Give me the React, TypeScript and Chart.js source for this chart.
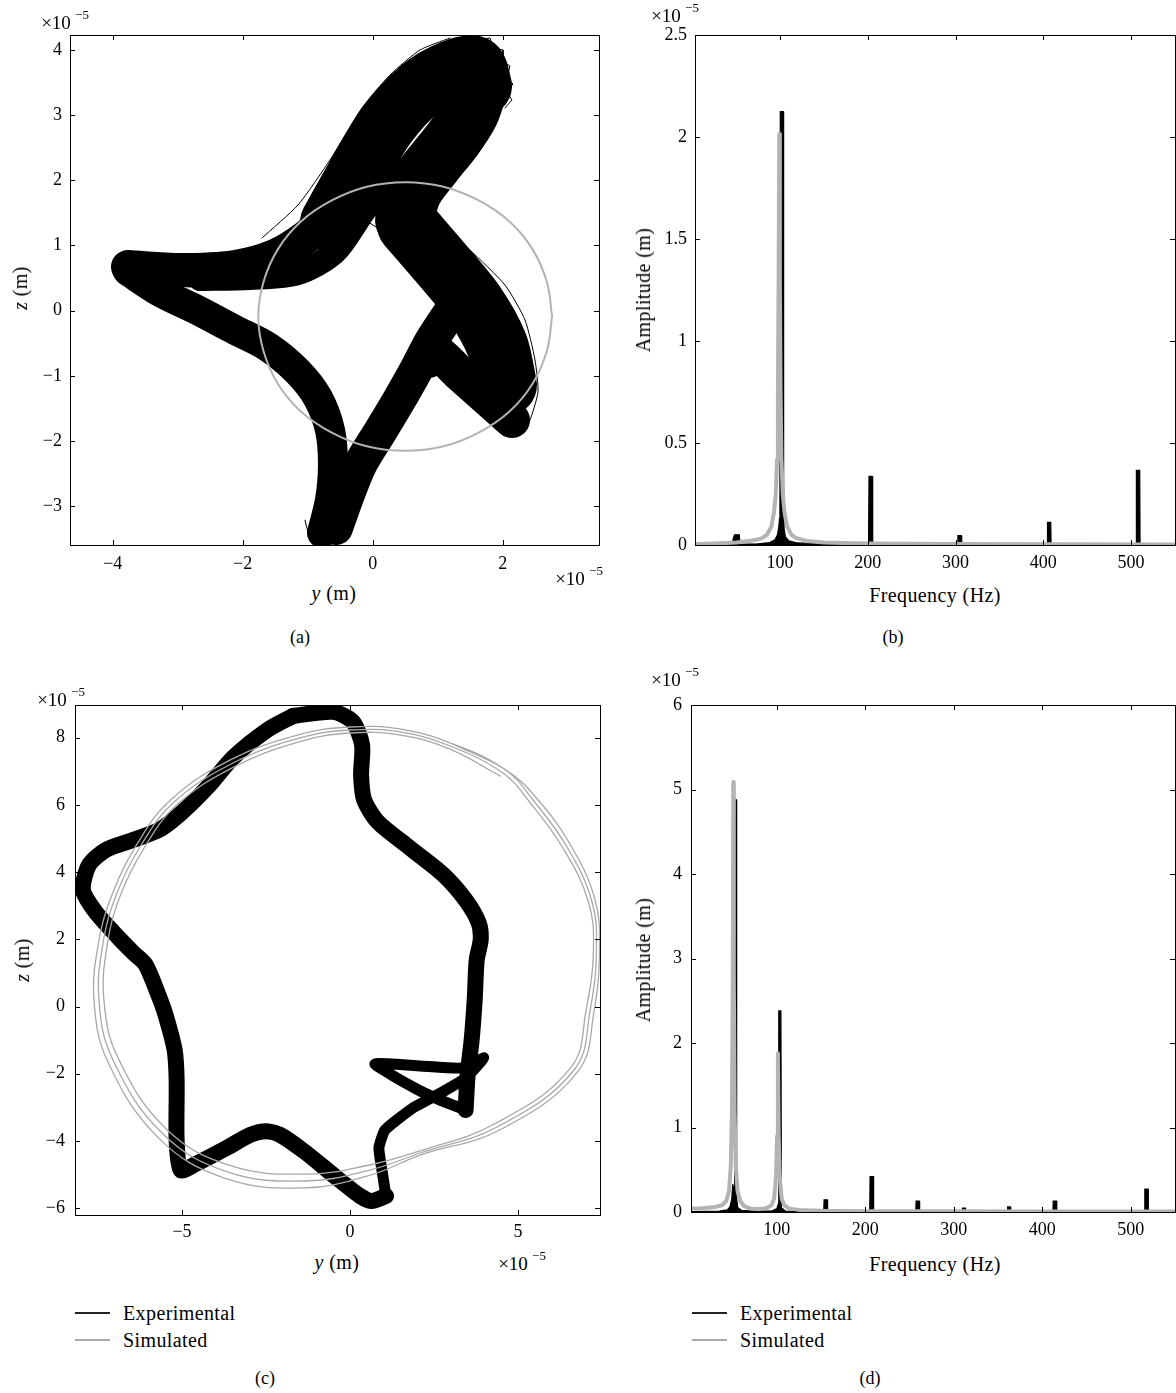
import React, { useEffect, useRef } from 'react';
import { Chart, registerables } from 'chart.js';

Chart.register(...registerables);

type Pt = [number, number];

const SERIF = '"Liberation Serif", "DejaVu Serif", "Times New Roman", serif';
const INK = '#000000';
const GREY = '#b3b3b3';

// ---------- (a) orbit, y/z in units of 1e-5 m ----------
const ORBIT_A_LEFT_TIP: Pt[] = [
  [-3.765, 0.67], [-2.965, 0.624], [-2.118, 0.67], [-1.503, 0.839], [-1.042, 1.115], [-0.657, 1.468],
];
const ORBIT_A_ELBOW: Pt[] = [
  [-2.655, 0.486], [-1.888, 0.501], [-1.149, 0.578], [-0.58, 0.9], [-0.195, 1.437], [0.005, 1.729], [0.235, 2.127],
];
const ORBIT_A_RISE: Pt[] = [
  [-0.657, 1.357], [-0.318, 1.959], [0.205, 2.833], [0.743, 3.416],
  [1.22, 3.692], [1.574, 3.753], [1.682, 3.446],
];
const ORBIT_A_DESCENT: Pt[] = [
  [1.62, 3.385], [1.497, 3.031], [1.251, 2.649], [0.943, 2.265], [0.635, 1.851], [0.482, 1.391],
];
const ORBIT_A_RIGHT_OUT: Pt[] = [
  [0.543, 1.314], [1.112, 0.655], [1.574, 0.087], [1.912, -0.525], [2.051, -1.139],
];
const ORBIT_A_RIGHT_BACK: Pt[] = [
  [2.143, -1.677], [1.728, -1.308], [1.312, -0.94], [0.974, -0.633], [0.851, -0.758],
];
const ORBIT_A_MIDDLE: Pt[] = [
  [1.266, 0.087], [0.912, -0.449], [0.651, -0.94], [0.389, -1.4], [0.112, -1.86],
  [-0.195, -2.366], [-0.411, -2.903], [-0.565, -3.333],
];
const ORBIT_A_LOWER: Pt[] = [
  [-0.78, -3.41], [-0.657, -2.903], [-0.611, -2.366], [-0.657, -1.83], [-0.842, -1.339],
  [-1.149, -0.94], [-1.611, -0.557], [-2.118, -0.296], [-2.734, 0.026], [-3.272, 0.287], [-3.765, 0.608],
];
// single stray passes around the bundle
const STRAY_A_NOTCH: Pt[] = [[0.051, 1.621], [-0.072, 1.36], [0.174, 1.207], [0.343, 0.931], [0.605, 0.747]];
const STRAY_A_LEFT: Pt[] = [[-3.918, 0.808], [-3.811, 0.593], [-3.426, 0.409], [-2.811, 0.363], [-2.042, 0.409], [-1.58, 0.532]];
const STRAY_A_TOP: Pt[] = [
  [1.266, 4.121], [1.497, 4.244], [1.651, 4.152], [1.805, 4.183], [1.866, 4.029], [2.005, 3.998],
  [2.005, 3.814], [2.112, 3.753], [2.066, 3.569], [2.158, 3.477], [2.066, 3.354], [2.143, 3.232], [2.035, 3.109],
];
const STRAY_A_BOTTOM: Pt[] = [[-1.042, -3.21], [-0.965, -3.517], [-0.842, -3.333], [-0.78, -3.594], [-0.657, -3.364], [-0.566, -3.548], [-0.457, -3.287]];
const STRAY_A_RISE: Pt[] = [[-1.703, 1.115], [-1.149, 1.621], [-0.657, 2.311], [-0.165, 3.109], [0.266, 3.615], [0.728, 3.998], [1.189, 4.182]];
const STRAY_A_RIGHT: Pt[] = [[1.035, 1.36], [1.497, 0.931], [2.035, 0.394], [2.343, -0.141], [2.497, -0.754], [2.543, -1.245], [2.42, -1.676], [2.266, -1.907]];
const SIM_A: Pt[] = [
  [2.76, -0.09], [2.68, 0.44], [2.46, 0.94], [2.1, 1.37], [1.63, 1.69], [1.09, 1.9], [0.5, 1.97],
  [-0.09, 1.9], [-0.63, 1.69], [-1.1, 1.37], [-1.46, 0.94], [-1.68, 0.44], [-1.76, -0.09],
  [-1.68, -0.62], [-1.46, -1.12], [-1.1, -1.55], [-0.63, -1.87], [-0.09, -2.08], [0.5, -2.15],
  [1.09, -2.08], [1.63, -1.87], [2.1, -1.55], [2.46, -1.12], [2.68, -0.62], [2.76, -0.09],
];

// ---------- (b) spectrum: frequency (Hz), amplitude (1e-5 m) ----------
const SPEC_B_EXP: Pt[] = [
  [3, 0.003], [25, 0.004], [45.5, 0.005], [46.5, 0.03], [48, 0.05], [53.5, 0.05], [54.3, 0.005],
  [75, 0.006], [88, 0.012], [94, 0.025], [97, 0.05], [98.5, 0.09], [99.3, 0.13], [99.8, 0.5],
  [100.2, 2.124], [103.6, 2.124], [104, 0.3], [104.5, 0.08], [106, 0.04], [110, 0.02], [120, 0.01],
  [150, 0.005], [199.5, 0.004], [200.8, 0.02], [201.3, 0.336], [205, 0.336], [205.5, 0.02], [207, 0.004],
  [300, 0.004], [302.2, 0.005], [302.6, 0.046], [306.5, 0.046], [306.9, 0.005],
  [404.3, 0.005], [404.7, 0.111], [408.4, 0.111], [408.8, 0.005],
  [505.6, 0.004], [506, 0.366], [509.8, 0.366], [510.2, 0.004], [550, 0.004],
];
const SPEC_B_SIM: Pt[] = [
  [3, 0.004], [30, 0.008], [50, 0.012], [65, 0.02], [75, 0.028], [80, 0.035], [85, 0.05], [90, 0.09],
  [93, 0.16], [95, 0.25], [96.5, 0.42], [97.5, 0.75], [98.3, 1.3], [99, 2.015], [99.7, 1.3],
  [100.5, 0.75], [101.5, 0.42], [103, 0.25], [105, 0.16], [108, 0.09], [113, 0.05], [118, 0.035],
  [130, 0.02], [150, 0.012], [200, 0.007], [300, 0.005], [550, 0.003],
];

// ---------- (c) orbit ----------
const ORBIT_C_TOP: Pt[] = [
  [-1.69, 8.65], [-0.5, 8.77], [0.09, 8.47], [0.36, 7.78], [0.33, 6.89], [0.42, 6.15], [0.83, 5.49],
  [1.78, 4.72], [2.76, 3.94], [3.44, 3.17], [3.83, 2.49], [3.89, 1.99], [3.77, 1.38], [3.71, 0.19],
  [3.62, -1.0], [3.5, -2.04], [3.44, -3.08],
];
const ORBIT_C_LOOP: Pt[] = [
  [3.44, -3.08], [2.67, -2.78], [1.93, -2.43], [0.74, -1.71], [2.08, -1.77], [3.32, -1.83], [3.98, -1.53],
  [3.44, -2.13], [2.76, -2.54], [1.87, -3.02], [1.04, -3.68], [0.86, -4.21], [0.95, -4.87], [1.07, -5.64],
];
const ORBIT_C_LOWER: Pt[] = [
  [1.07, -5.64], [0.65, -5.79], [0.3, -5.64], [-0.42, -5.08], [-1.34, -4.33], [-2.08, -3.82],
  [-2.49, -3.71], [-2.97, -3.82], [-3.62, -4.18], [-4.6, -4.69], [-5.04, -4.87], [-5.16, -3.97],
  [-5.16, -2.19], [-5.22, -1.29], [-5.49, -0.25], [-5.7, 0.34], [-6.08, 1.24], [-6.44, 1.59],
  [-6.91, 2.07], [-7.57, 2.81], [-7.95, 3.47], [-7.77, 4.21], [-7.27, 4.66], [-6.44, 4.96],
  [-5.64, 5.28], [-4.99, 5.79], [-4.24, 6.53], [-3.47, 7.42], [-2.46, 8.23], [-1.69, 8.65],
];
const SIM_C: Pt[] = [
  // first turn
  [4.476, 6.857], [2.938, 7.673], [1.467, 8.083], [0, 8.14], [-1.464, 7.89], [-3.42, 7.146],
  [-5.179, 5.979], [-6.143, 4.693], [-6.818, 3.348], [-7.217, 1.884], [-7.324, 0.19], [-6.905, -1.527],
  [-5.438, -3.673], [-3.53, -4.744], [-1.298, -4.988], [0.58, -4.717], [2.063, -4.304], [4.298, -3.497],
  [6.56, -1.836], [7.027, -0.107], [7.247, 1.771], [7.083, 3.155], [6.354, 4.688], [5.357, 6.071],
  // second turn
  [4.554, 6.949], [2.976, 7.753], [1.488, 8.17], [0, 8.229], [-1.488, 7.991], [-3.482, 7.247],
  [-5.268, 6.057], [-6.25, 4.747], [-6.935, 3.378], [-7.351, 1.89], [-7.47, 0.164], [-7.054, -1.592],
  [-5.565, -3.795], [-3.631, -4.926], [-1.339, -5.193], [0.595, -4.866], [2.083, -4.36], [4.375, -3.586],
  [6.667, -1.89], [7.143, -0.134], [7.336, 1.771], [7.188, 3.17], [6.458, 4.747], [5.446, 6.146],
  // third turn
  [4.631, 7.042], [3.015, 7.833], [1.509, 8.256], [0, 8.318], [-1.512, 8.092], [-3.545, 7.348],
  [-5.357, 6.134], [-6.357, 4.801], [-7.051, 3.408], [-7.485, 1.896], [-7.616, 0.137], [-7.202, -1.658],
  [-5.693, -3.917], [-3.732, -5.107], [-1.381, -5.399], [0.61, -5.015], [2.104, -4.417], [4.452, -3.676],
  [6.774, -1.943], [7.259, -0.161], [7.426, 1.771], [7.292, 3.185], [6.563, 4.807], [5.536, 6.22],
  [4.631, 7.042], [3.015, 7.833],
];

// ---------- (d) spectrum ----------
const SPEC_D_EXP: Pt[] = [
  [3, 0.005], [35, 0.01], [44, 0.025], [47, 0.06], [49, 0.15], [50.3, 0.33], [51, 0.2], [51.8, 0.3],
  [52.4, 4.88], [54.0, 4.88], [54.6, 0.15], [56, 0.05], [60, 0.02], [75, 0.01], [95, 0.015], [100, 0.04],
  [101.8, 0.1], [102.2, 2.38], [104.6, 2.38], [105.2, 0.05], [110, 0.01],
  [153, 0.005], [153.4, 0.145], [157, 0.145], [157.4, 0.005],
  [205, 0.005], [205.4, 0.42], [209, 0.42], [209.4, 0.005],
  [257, 0.005], [257.4, 0.13], [261, 0.13], [261.4, 0.005],
  [309.3, 0.005], [309.7, 0.047], [313, 0.047], [313.4, 0.005],
  [360.5, 0.005], [360.9, 0.06], [364, 0.06], [364.4, 0.005],
  [412, 0.005], [412.4, 0.13], [416, 0.13], [416.4, 0.005],
  [515.5, 0.005], [515.9, 0.27], [519.5, 0.27], [519.9, 0.005], [550, 0.005],
];
const SPEC_D_SIM: Pt[] = [
  [3, 0.04], [15, 0.045], [30, 0.06], [38, 0.08], [43, 0.13], [46, 0.25], [48, 0.55], [49.3, 1.2],
  [50.2, 2.8], [50.8, 5.09], [51.4, 2.8], [52.3, 1.2], [53.6, 0.55], [55.6, 0.25], [58.6, 0.13],
  [63, 0.07], [70, 0.04], [80, 0.035], [88, 0.045], [94, 0.08], [97, 0.16], [99, 0.4], [100.3, 0.9],
  [101.2, 1.88], [102.1, 0.9], [103.4, 0.4], [105.4, 0.16], [108.4, 0.08], [114, 0.04], [125, 0.025],
  [150, 0.015], [200, 0.01], [300, 0.008], [400, 0.007], [550, 0.006],
];

const toXY = (pts: Pt[]) => pts.map(([x, y]) => ({ x, y }));

const fmtTick = (v: number) => {
  const s = String(Number(Number(v).toFixed(3)));
  return s.startsWith('-') ? '\u2212' + s.slice(1) : s;
};

const line = (pts: Pt[], color: string, width: number, tension = 0, extra: any = {}) => ({
  data: toXY(pts),
  showLine: true,
  borderColor: color,
  backgroundColor: color,
  borderWidth: width,
  pointRadius: 0,
  pointHoverRadius: 0,
  fill: false,
  tension,
  borderCapStyle: 'round',
  borderJoinStyle: 'round',
  clip: 0,
  ...extra,
});

// box around the plot with inward tick marks on all four sides
const framePlugin = {
  id: 'frame',
  afterDraw(chart: any) {
    const { ctx, chartArea } = chart;
    const { left, right, top, bottom } = chartArea;
    const xs = chart.scales.x;
    const ys = chart.scales.y;
    const L = 5;
    ctx.save();
    ctx.strokeStyle = '#000';
    ctx.lineWidth = 1;
    ctx.beginPath();
    for (const t of xs.ticks) {
      const p = Math.round(xs.getPixelForValue(t.value)) + 0.5;
      ctx.moveTo(p, bottom);
      ctx.lineTo(p, bottom - L);
      ctx.moveTo(p, top);
      ctx.lineTo(p, top + L);
    }
    for (const t of ys.ticks) {
      const p = Math.round(ys.getPixelForValue(t.value)) + 0.5;
      ctx.moveTo(left, p);
      ctx.lineTo(left + L, p);
      ctx.moveTo(right, p);
      ctx.lineTo(right - L, p);
    }
    ctx.stroke();
    ctx.strokeRect(Math.round(left) + 0.5, Math.round(top) + 0.5, Math.round(right - left), Math.round(bottom - top));
    ctx.restore();
  },
};

type AxisSpec = { min: number; max: number; step: number; size: number; pad: number };

function axis(spec: AxisSpec, horizontal: boolean) {
  return {
    type: 'linear',
    position: horizontal ? 'bottom' : 'left',
    min: spec.min,
    max: spec.max,
    ticks: {
      stepSize: spec.step,
      includeBounds: false,
      autoSkip: false,
      maxRotation: 0,
      minRotation: 0,
      padding: spec.pad,
      color: '#000',
      font: { family: SERIF, size: 18 },
      callback: (v: number) => fmtTick(v),
    },
    grid: { display: false, drawTicks: false },
    border: { display: false },
    afterFit: (s: any) => {
      if (horizontal) s.height = spec.size;
      else s.width = spec.size;
    },
  };
}

function makeConfig(datasets: any[], x: AxisSpec, y: AxisSpec, padTop: number, padRight: number) {
  return {
    type: 'scatter',
    data: { datasets },
    options: {
      animation: false,
      responsive: false,
      events: [],
      layout: { padding: { top: padTop, right: padRight, left: 0, bottom: 0 } },
      plugins: { legend: { display: false }, tooltip: { enabled: false }, title: { display: false } },
      scales: { x: axis(x, true), y: axis(y, false) },
    },
    plugins: [framePlugin],
  };
}

function Panel({ left, top, width, height, config }: { left: number; top: number; width: number; height: number; config: any }) {
  const ref = useRef<HTMLCanvasElement>(null);
  useEffect(() => {
    const chart = new Chart(ref.current as HTMLCanvasElement, config);
    return () => chart.destroy();
  }, []);
  return <canvas ref={ref} width={width} height={height} style={{ position: 'absolute', left, top, width, height }} />;
}

function Txt({ x, y, size = 20, rot = 0, spacing = 0.4, children }: { x: number; y: number; size?: number; rot?: number; spacing?: number; children: React.ReactNode }) {
  return (
    <div
      style={{
        position: 'absolute',
        left: x,
        top: y,
        transform: `translate(-50%, -50%) rotate(${rot}deg)`,
        fontFamily: SERIF,
        fontSize: size,
        letterSpacing: spacing,
        lineHeight: 1,
        whiteSpace: 'nowrap',
        color: '#000',
      }}
    >
      {children}
    </div>
  );
}

function Exponent({ x, y }: { x: number; y: number }) {
  return (
    <>
      <Txt x={x} y={y} size={19} spacing={0}>×10</Txt>
      <Txt x={x + 26} y={y - 8} size={13} spacing={0}>−5</Txt>
    </>
  );
}

const legendText = { position: 'absolute' as const, fontFamily: SERIF, fontSize: 20, letterSpacing: 0.4, lineHeight: '20px', whiteSpace: 'nowrap' as const };

function Legend({ x, y }: { x: number; y: number }) {
  return (
    <>
      <div style={{ position: 'absolute', left: x, top: y - 1, width: 35, height: 2, background: '#222' }} />
      <div style={{ position: 'absolute', left: x, top: y + 26, width: 35, height: 2, background: '#aaa' }} />
      <div style={{ ...legendText, left: x + 48, top: y - 10 }}>Experimental</div>
      <div style={{ ...legendText, left: x + 48, top: y + 17 }}>Simulated</div>
    </>
  );
}

const configA = makeConfig(
  [
    line(SIM_A, GREY, 2, 0.4),
    line(ORBIT_A_LEFT_TIP, INK, 34, 0.3),
    line(ORBIT_A_ELBOW, INK, 24, 0.3),
    line(ORBIT_A_RISE, INK, 60, 0.3),
    line(ORBIT_A_DESCENT, INK, 58, 0.3),
    line(ORBIT_A_RIGHT_OUT, INK, 62, 0.3),
    line(ORBIT_A_RIGHT_BACK, INK, 36, 0.3),
    line(ORBIT_A_MIDDLE, INK, 34, 0.3),
    line(ORBIT_A_LOWER, INK, 30, 0.3),
    line(STRAY_A_NOTCH, INK, 1, 0),
    line(STRAY_A_LEFT, INK, 1, 0),
    line(STRAY_A_TOP, INK, 1, 0),
    line(STRAY_A_BOTTOM, INK, 1, 0),
    line(STRAY_A_RISE, INK, 1, 0.2),
    line(STRAY_A_RIGHT, INK, 1, 0.2),
  ],
  { min: -4.657, max: 3.482, step: 2, size: 35, pad: 8 },
  { min: -3.594, max: 4.228, step: 1, size: 70, pad: 8 },
  35,
  13,
);

const configB = makeConfig(
  [
    line(SPEC_B_SIM, GREY, 4, 0, { borderCapStyle: 'butt' }),
    line(SPEC_B_EXP, INK, 1.2, 0, { fill: 'origin', borderCapStyle: 'butt', borderJoinStyle: 'miter' }),
  ],
  { min: 3, max: 550, step: 100, size: 35, pad: 7 },
  { min: 0, max: 2.5, step: 0.5, size: 75, pad: 8 },
  35,
  1,
);

const configC = makeConfig(
  [
    line(SIM_C, '#a8a8a8', 1.3, 0.4),
    line(ORBIT_C_TOP, INK, 16, 0.25),
    line(ORBIT_C_LOOP, INK, 11, 0.15),
    line(ORBIT_C_LOWER, INK, 16, 0.25),
  ],
  { min: -8.185, max: 7.44, step: 5, size: 35, pad: 6 },
  { min: -6.205, max: 8.973, step: 2, size: 75, pad: 10 },
  55,
  12,
);

const configD = makeConfig(
  [
    line(SPEC_D_SIM, GREY, 4, 0, { borderCapStyle: 'butt' }),
    line(SPEC_D_EXP, INK, 1.2, 0, { fill: 'origin', borderCapStyle: 'butt', borderJoinStyle: 'miter' }),
  ],
  { min: 3, max: 550, step: 100, size: 38, pad: 7 },
  { min: 0, max: 6, step: 1, size: 71, pad: 9 },
  55,
  1,
);

export default function App() {
  return (
    <div style={{ position: 'absolute', left: 0, top: 0, width: 1176, height: 1393, background: '#fff', overflow: 'hidden' }}>
      <Panel left={0} top={0} width={612} height={580} config={configA} />
      <Panel left={620} top={0} width={556} height={580} config={configB} />
      <Panel left={0} top={650} width={612} height={600} config={configC} />
      <Panel left={620} top={650} width={556} height={600} config={configD} />

      {/* (a) */}
      <Exponent x={56} y={22} />
      <Txt x={20} y={288} rot={-90}><i>z</i> (m)</Txt>
      <Txt x={334} y={593}><i>y</i> (m)</Txt>
      <Exponent x={570} y={578} />
      <Txt x={300} y={637} size={18} spacing={0}>(a)</Txt>

      {/* (b) */}
      <Exponent x={666} y={15} />
      <Txt x={643} y={290} rot={-90}>Amplitude (m)</Txt>
      <Txt x={935} y={595}>Frequency (Hz)</Txt>
      <Txt x={893} y={637} size={18} spacing={0}>(b)</Txt>

      {/* (c) */}
      <Exponent x={52} y={699} />
      <Txt x={22} y={960} rot={-90}><i>z</i> (m)</Txt>
      <Txt x={337} y={1262}><i>y</i> (m)</Txt>
      <Exponent x={513} y={1263} />
      <Legend x={75} y={1313} />
      <Txt x={265} y={1378} size={18} spacing={0}>(c)</Txt>

      {/* (d) */}
      <Exponent x={666} y={679} />
      <Txt x={643} y={960} rot={-90}>Amplitude (m)</Txt>
      <Txt x={935} y={1264}>Frequency (Hz)</Txt>
      <Legend x={692} y={1313} />
      <Txt x={870} y={1378} size={18} spacing={0}>(d)</Txt>
    </div>
  );
}
